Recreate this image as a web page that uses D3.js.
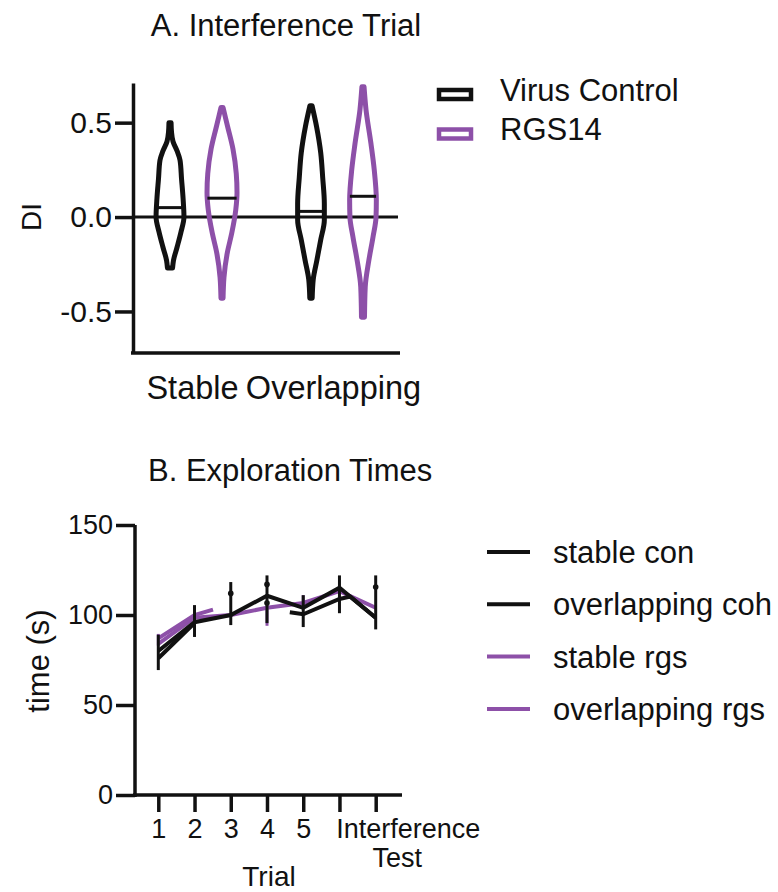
<!DOCTYPE html>
<html>
<head>
<meta charset="utf-8">
<script src="https://cdn.jsdelivr.net/npm/d3@7"></script>
<style>
  html, body { margin: 0; padding: 0; background: #fff; }
  svg { display: block; font-family: "Liberation Sans", Arial, Helvetica, sans-serif; }
  text { fill: #111; }
</style>
</head>
<body>
<svg id="chart" width="778" height="892"></svg>
<script>
// ---------- Panel A: discrimination index violins ----------
const groups = ["Stable", "Overlapping"];
const conditions = ["Virus Control", "RGS14"];
const diTicks = [-0.5, 0, 0.5];

// Violin outlines: DI level and relative density at that level
const stableControlDI      = [0.50, 0.45, 0.40, 0.35, 0.30, 0.20, 0.10, 0.00, -0.08, -0.16, -0.23, -0.27];
const stableControlDensity = [0.07, 0.10, 0.20, 0.47, 0.67, 0.77, 0.87, 0.93, 0.73, 0.47, 0.23, 0.17];
const stableRgsDI          = [0.58, 0.48, 0.36, 0.23, 0.13, 0.04, -0.085, -0.19, -0.32, -0.43];
const stableRgsDensity     = [0.07, 0.37, 0.73, 0.95, 1.00, 0.92, 0.65, 0.35, 0.13, 0.07];
const overlapControlDI      = [0.59, 0.48, 0.34, 0.21, 0.07, -0.015, -0.12, -0.23, -0.33, -0.43];
const overlapControlDensity = [0.07, 0.37, 0.65, 0.78, 0.89, 0.89, 0.65, 0.39, 0.15, 0.08];
const overlapRgsDI          = [0.69, 0.57, 0.39, 0.25, 0.09, 0.00, -0.105, -0.23, -0.37, -0.53];
const overlapRgsDensity     = [0.07, 0.20, 0.53, 0.75, 0.89, 0.87, 0.67, 0.39, 0.15, 0.10];

// Medians
const diMedians = [0.05, 0.10, 0.03, 0.11]; // stable ctrl, stable rgs, overlap ctrl, overlap rgs

// ---------- Panel B: exploration times ----------
const trialTicks = [1, 2, 3, 4, 5, 6, 7];
const trialLabels = ["1", "2", "3", "4", "5", "", "Interference Test"];
const timeTicks = [0, 50, 100, 150];

const stableConTrial = [1, 2, 3, 4, 5, 6, 7];
const stableConTime  = [80, 96, 100, 110.7, 104, 115.2, 98.5];
const overlapConTrial = [1, 2, 3, 4.63, 5, 6, 6.3, 7];
const overlapConTime  = [76, 95.5, null, 101.5, 100.4, 108.9, 110.2, 98.5];
const stableRgsTrial = [1, 2, 2.51];
const stableRgsTime  = [87, 100, 103];
const overlapRgsTrial = [1, 2, 3, 4, 5, 6, 7];
const overlapRgsTime  = [84, 98.5, 100, 104, 106.7, 113.3, 104];

// Error bars (SEM) and extra means
const blackErrTrial = [1, 2, 3, 4, 5, 6, 7];
const blackErrHigh  = [89, 105.5, 118.3, 122, 111, 122, 122];
const blackErrLow   = [69.4, 87.8, 94.4, 95.5, 93.3, 101, 92];
const purpleErrTrial = [1, 2, 4, 5];
const purpleErrHigh  = [89.5, 105, 104, 111];
const purpleErrLow   = [83, 99, 94, 104];
const meanDotTrial = [3, 4, 4, 7];
const meanDotTime  = [112, 117, 106.7, 115.5];

const legendB = ["stable con", "overlapping coh", "stable rgs", "overlapping rgs"];

const BLACK = "#111";
const PURPLE = "#8d50a8";
const condColor = d3.scaleOrdinal().domain(conditions).range([BLACK, PURPLE]);
const seriesColor = d3.scaleOrdinal().domain(legendB).range([BLACK, BLACK, PURPLE, PURPLE]);

const svg = d3.select("#chart");

// ================= Panel A =================
const yA = d3.scaleLinear().domain([-0.72, 0.71]).range([353, 83]);
const xA = d3.scalePoint().domain(groups).range([133, 400]).padding(0.447);
const xSub = d3.scalePoint().domain(conditions).range([-26, 26]);
const halfW = d3.scaleLinear().domain([0, 1]).range([0, 15]);

const gA = svg.append("g");

// title
gA.append("text").attr("x", 286).attr("y", 36).attr("text-anchor", "middle")
  .style("font-size", "31px").text("A. Interference Trial");

// zero reference line
gA.append("line")
  .attr("x1", 133).attr("x2", 398)
  .attr("y1", yA(0)).attr("y2", yA(0))
  .attr("stroke", BLACK).attr("stroke-width", 3);

// y axis
const yAxisA = gA.append("g").attr("transform", "translate(133,0)")
  .call(d3.axisLeft(yA).tickValues(diTicks).tickSize(18).tickSizeOuter(0).tickPadding(3)
    .tickFormat(d => d.toFixed(1)));
yAxisA.select(".domain").attr("stroke-width", 3.5).attr("stroke", BLACK);
yAxisA.selectAll(".tick line").attr("stroke-width", 3.5).attr("stroke", BLACK);
yAxisA.selectAll(".tick text").style("font-size", "30px").attr("fill", "#111");

// x axis
const xAxisA = gA.append("g").attr("transform", "translate(0,353)")
  .call(d3.axisBottom(xA).tickSize(0).tickSizeOuter(0).tickPadding(23));
xAxisA.select(".domain").attr("d", "M131,0H400").attr("stroke-width", 3.5).attr("stroke", BLACK);
xAxisA.selectAll(".tick text").style("font-size", "32.5px").attr("fill", "#111").attr("dx", -4);

// y label
gA.append("text").attr("transform", "translate(41,217) rotate(-90)")
  .attr("text-anchor", "middle").style("font-size", "28px").text("DI");

// violins
const violins = [
  { group: "Stable", cond: "Virus Control", di: stableControlDI, dens: stableControlDensity, median: diMedians[0] },
  { group: "Stable", cond: "RGS14", di: stableRgsDI, dens: stableRgsDensity, median: diMedians[1] },
  { group: "Overlapping", cond: "Virus Control", di: overlapControlDI, dens: overlapControlDensity, median: diMedians[2] },
  { group: "Overlapping", cond: "RGS14", di: overlapRgsDI, dens: overlapRgsDensity, median: diMedians[3] }
];

violins.forEach(v => {
  const cx = xA(v.group) + xSub(v.cond);
  const pts = v.di.map((d, i) => [d, v.dens[i]]);
  const area = d3.area()
    .y(d => yA(d[0]))
    .x0(d => cx - halfW(d[1]))
    .x1(d => cx + halfW(d[1]))
    .curve(d3.curveMonotoneY);
  gA.append("path").attr("d", area(pts))
    .attr("fill", "none").attr("stroke", condColor(v.cond))
    .attr("stroke-width", 5).attr("stroke-linejoin", "round");
  const densAt = d3.scaleLinear().domain(v.di).range(v.dens);
  const hw = halfW(densAt(v.median));
  gA.append("line")
    .attr("x1", cx - hw).attr("x2", cx + hw)
    .attr("y1", yA(v.median)).attr("y2", yA(v.median))
    .attr("stroke", BLACK).attr("stroke-width", 3);
});

// legend A
const legA = gA.append("g");
conditions.forEach((c, i) => {
  const yy = 90 + i * 39.5;
  legA.append("rect").attr("x", 439).attr("y", yy).attr("width", 32).attr("height", 9)
    .attr("fill", "none").attr("stroke", condColor(c)).attr("stroke-width", 4.5);
  legA.append("text").attr("x", 500).attr("y", yy + 10.5)
    .style("font-size", "31px").text(c);
});

// ================= Panel B =================
const yB = d3.scaleLinear().domain([0, 150]).range([795, 525]);
const xB = d3.scaleLinear().domain([0.357, 7.726]).range([135, 402]);

const gB = svg.append("g");

gB.append("text").attr("x", 148).attr("y", 481)
  .style("font-size", "31px").text("B. Exploration Times");

const yAxisB = gB.append("g").attr("transform", "translate(135,0)")
  .call(d3.axisLeft(yB).tickValues(timeTicks).tickSize(19).tickSizeOuter(0).tickPadding(3));
yAxisB.select(".domain").attr("d", "M0,525V797").attr("stroke-width", 3.5).attr("stroke", BLACK);
yAxisB.selectAll(".tick line").attr("stroke-width", 3.5).attr("stroke", BLACK);
yAxisB.selectAll(".tick text").style("font-size", "27px").attr("fill", "#111");

const xAxisB = gB.append("g").attr("transform", "translate(0,795)")
  .call(d3.axisBottom(xB).tickValues(trialTicks).tickSize(17).tickSizeOuter(0).tickPadding(7)
    .tickFormat((d, i) => trialLabels[i]));
xAxisB.select(".domain").attr("d", "M133,0H402").attr("stroke-width", 3.5).attr("stroke", BLACK);
xAxisB.selectAll(".tick line").attr("stroke-width", 3.5).attr("stroke", BLACK);
xAxisB.selectAll(".tick text").style("font-size", "27px").attr("fill", "#111")
  .each(function (d, i) {
    const words = trialLabels[i].split(" ");
    if (words.length > 1) {
      const t = d3.select(this).text(null);
      t.append("tspan").attr("x", 32).attr("dy", "0.71em").text(words[0]);
      t.append("tspan").attr("x", 21).attr("dy", "1.08em").text(words[1]);
    }
  });

gB.append("text").attr("x", 269).attr("y", 886).attr("text-anchor", "middle")
  .style("font-size", "28px").text("Trial");

gB.append("text").attr("transform", "translate(49,661) rotate(-90)")
  .attr("text-anchor", "middle").style("font-size", "31px").text("time (s)");

// error bars
const errs = [];
purpleErrTrial.forEach((t, i) => errs.push({ t, lo: purpleErrLow[i], hi: purpleErrHigh[i], c: PURPLE }));
blackErrTrial.forEach((t, i) => errs.push({ t, lo: blackErrLow[i], hi: blackErrHigh[i], c: BLACK }));

const lineGen = d3.line()
  .defined(d => d.v != null)
  .x(d => xB(d.t)).y(d => yB(d.v));

const series = [
  { name: "stable rgs", trial: stableRgsTrial, time: stableRgsTime },
  { name: "overlapping rgs", trial: overlapRgsTrial, time: overlapRgsTime },
  { name: "stable con", trial: stableConTrial, time: stableConTime },
  { name: "overlapping coh", trial: overlapConTrial, time: overlapConTime }
];

// purple error bars beneath lines
gB.selectAll(".errP").data(errs.filter(e => e.c === PURPLE)).join("line")
  .attr("x1", d => xB(d.t)).attr("x2", d => xB(d.t))
  .attr("y1", d => yB(d.lo)).attr("y2", d => yB(d.hi))
  .attr("stroke", d => d.c).attr("stroke-width", 3);

series.forEach(s => {
  const pts = s.trial.map((t, i) => ({ t, v: s.time[i] }));
  gB.append("path").attr("d", lineGen(pts))
    .attr("fill", "none").attr("stroke", seriesColor(s.name))
    .attr("stroke-width", 4).attr("stroke-linejoin", "miter");
});

gB.selectAll(".errK").data(errs.filter(e => e.c === BLACK)).join("line")
  .attr("x1", d => xB(d.t)).attr("x2", d => xB(d.t))
  .attr("y1", d => yB(d.lo)).attr("y2", d => yB(d.hi))
  .attr("stroke", d => d.c).attr("stroke-width", 3);

gB.selectAll(".dot").data(meanDotTrial.map((t, i) => ({ t, v: meanDotTime[i] }))).join("circle")
  .attr("cx", d => xB(d.t)).attr("cy", d => yB(d.v)).attr("r", 2.8).attr("fill", BLACK);

// legend B
legendB.forEach((name, i) => {
  const yy = 552 + i * 52.3;
  gB.append("line").attr("x1", 487).attr("x2", 530).attr("y1", yy).attr("y2", yy)
    .attr("stroke", seriesColor(name)).attr("stroke-width", 4);
  gB.append("text").attr("x", 553).attr("y", yy + 11)
    .style("font-size", "31px").text(name);
});
</script>
</body>
</html>
